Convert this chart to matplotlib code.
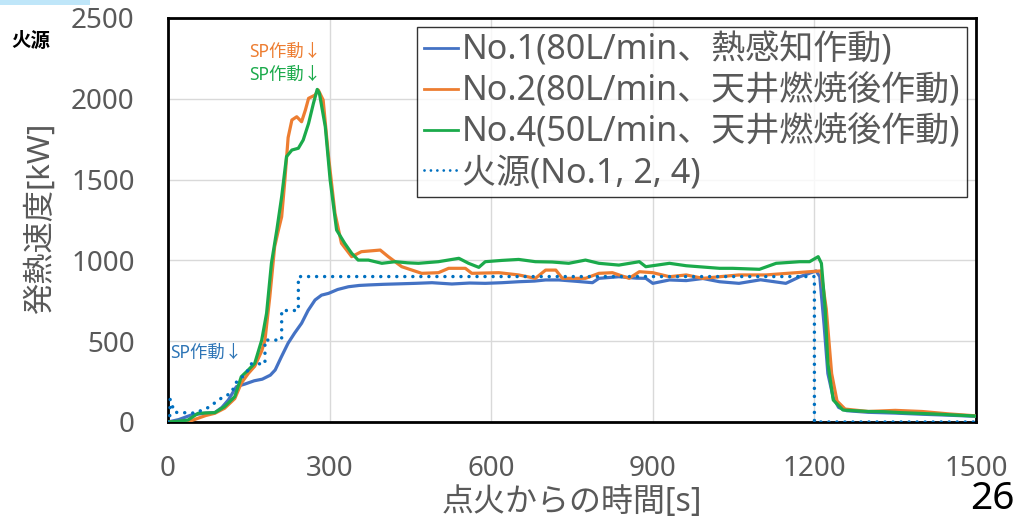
import matplotlib
matplotlib.use("Agg")
import matplotlib.pyplot as plt
from matplotlib.patches import Rectangle

plt.rcParams['font.family'] = ['Noto Sans', 'Noto Sans CJK JP', 'DejaVu Sans']

# ---------------- data ----------------
t_no1 = [0, 20, 43, 70, 87, 100, 112, 127, 143, 160, 175, 190, 199, 210, 223, 235, 248, 260,
         273, 285, 298, 315, 335, 355, 372, 400, 430, 459, 490, 527, 560, 589, 620, 651, 680,
         701, 726, 760, 788, 800, 837, 870, 887, 900, 931, 962, 993, 1024, 1060, 1100, 1147,
         1173, 1203, 1210, 1218, 1225, 1235, 1245, 1260, 1300, 1350, 1400, 1450, 1500]
kw_no1 = [0, 15, 43, 55, 58, 90, 136, 219, 235, 255, 265, 290, 322, 400, 488, 550, 611, 690,
          755, 785, 796, 820, 837, 845, 848, 852, 855, 858, 862, 854, 860, 858, 862, 868, 872,
          879, 879, 870, 862, 889, 899, 890, 889, 858, 879, 875, 888, 868, 858, 880, 858,
          899, 935, 900, 600, 300, 150, 90, 70, 60, 55, 48, 42, 35]

t_no2 = [0, 20, 43, 70, 87, 105, 124, 136, 149, 161, 174, 180, 189, 198, 205, 211, 217, 223,
         230, 239, 248, 255, 261, 273, 279, 288, 298, 310, 322, 341, 359, 380, 394, 409, 434,
         471, 502, 521, 552, 564, 614, 651, 682, 701, 720, 732, 775, 800, 825, 856, 875, 900,
         931, 962, 993, 1024, 1060, 1110, 1150, 1191, 1212, 1222, 1232, 1242, 1257, 1300,
         1350, 1400, 1450, 1500]
kw_no2 = [0, 3, 8, 40, 54, 85, 145, 240, 300, 345, 440, 507, 775, 1085, 1188, 1270, 1498, 1760,
          1869, 1889, 1858, 1930, 2003, 2023, 2054, 1993, 1642, 1291, 1106, 1023, 1054, 1060,
          1064, 1023, 961, 920, 924, 951, 951, 920, 924, 910, 889, 940, 940, 889, 889, 920,
          924, 889, 930, 924, 899, 910, 889, 899, 910, 910, 920, 930, 935, 700, 300, 130, 80,
          65, 72, 65, 50, 38]

t_no4 = [0, 20, 37, 56, 87, 105, 124, 136, 149, 161, 174, 183, 192, 202, 211, 220, 230, 242,
         251, 261, 270, 277, 281, 292, 301, 313, 328, 341, 353, 372, 397, 422, 445, 465, 502,
         540, 558, 577, 589, 620, 651, 682, 713, 744, 775, 800, 837, 875, 887, 931, 962, 1024,
         1048, 1098, 1129, 1173, 1191, 1207, 1213, 1220, 1225, 1235, 1253, 1300, 1328, 1359,
         1420, 1498]
kw_no4 = [0, 5, 12, 54, 58, 95, 157, 280, 322, 363, 507, 673, 982, 1188, 1394, 1642, 1683, 1694,
          1745, 1848, 1972, 2058, 2035, 1827, 1498, 1188, 1106, 1044, 1002, 1002, 982, 992, 985,
          982, 992, 1013, 982, 957, 992, 1000, 1006, 992, 990, 982, 1002, 982, 971, 992, 961,
          982, 967, 951, 951, 945, 982, 992, 992, 1023, 982, 700, 363, 136, 74, 65, 64, 58,
          50, 37]

t_fire = [0, 3, 4, 12, 50, 75, 100, 118, 125, 145, 155, 180, 180, 211, 211, 242, 242, 1200, 1200, 1500]
kw_fire = [0, 0, 140, 60, 55, 90, 150, 180, 240, 300, 360, 360, 507, 507, 690, 690, 900, 900, 0, 0]

labels = ['No.1(80L/min、熱感知作動)', 'No.2(80L/min、天井燃焼後作動)',
          'No.4(50L/min、天井燃焼後作動)', '火源(No.1, 2, 4)']
x_ticks = [0, 300, 600, 900, 1200, 1500]
y_ticks = [0, 500, 1000, 1500, 2000, 2500]

C_BLUE = '#4472C4'
C_ORANGE = '#ED7D31'
C_GREEN = '#1BAA4B'
C_FIRE = '#0070C0'
GRAY = '#595959'

# ---------------- figure ----------------
fig = plt.figure(figsize=(10.3, 5.2), dpi=100)
ax = fig.add_axes([168 / 1030, 98 / 520, 808 / 1030, 404 / 520])

l1, = ax.plot(t_no1, kw_no1, color=C_BLUE, lw=2.3, zorder=3)
l2, = ax.plot(t_no2, kw_no2, color=C_ORANGE, lw=2.3, zorder=4)
l4, = ax.plot(t_no4, kw_no4, color=C_GREEN, lw=2.3, zorder=5)
lf, = ax.plot(t_fire, kw_fire, color=C_FIRE, lw=2.5, linestyle=(0, (0.01, 2.3)),
              dash_capstyle='round', zorder=6)

ax.set_xlim(0, 1500)
ax.set_ylim(0, 2500)
ax.set_xticks(x_ticks)
ax.set_yticks(y_ticks)
ax.tick_params(axis='both', length=0, labelsize=20, labelcolor=GRAY)
ax.tick_params(axis='y', pad=24)
ax.tick_params(axis='x', pad=24)
ax.grid(True, color='#D9D9D9', lw=1)
ax.set_axisbelow(True)
for s in ax.spines.values():
    s.set_color('black')
    s.set_linewidth(2)

leg = ax.legend([l1, l2, l4, lf], labels, loc='upper right', bbox_to_anchor=(0.989, 0.978),
                borderaxespad=0, fontsize=24.5, frameon=True, fancybox=False,
                handlelength=1.0, handletextpad=0.1, labelspacing=0.19, borderpad=0.2,
                labelcolor=GRAY)
leg.get_frame().set_edgecolor('black')
leg.get_frame().set_linewidth(1)
for h in leg.get_lines():
    h.set_linewidth(2)

# annotations
ax.text(218, 2290, 'SP作動↓', color=C_ORANGE, fontsize=12.5, ha='center', va='center')
ax.text(218, 2147, 'SP作動↓', color=C_GREEN, fontsize=12.5, ha='center', va='center')
ax.text(70, 427, 'SP作動↓', color='#2E75B6', fontsize=12.5, ha='center', va='center')

# labels
fig.text(40 / 1030, 1 - 218 / 520, '発熱速度[kW]', rotation=90, ha='center', va='center',
         fontsize=22.5, color=GRAY)
fig.text(572 / 1030, 1 - 503 / 520, '点火からの時間[s]', ha='center', va='center',
         fontsize=23, color=GRAY)
fig.text(31 / 1030, 1 - 42 / 520, '火源', ha='center', va='center', fontsize=14,
         color='black', fontweight='bold')
fig.text(992 / 1030, 1 - 499 / 520, '26', ha='center', va='center', fontsize=28,
         color='black')
fig.patches.append(Rectangle((0, 1 - 5 / 520), 90 / 1030, 5 / 520, transform=fig.transFigure,
                             facecolor='#BFE6F9', edgecolor='none'))

fig.savefig('out.png', dpi=100)
